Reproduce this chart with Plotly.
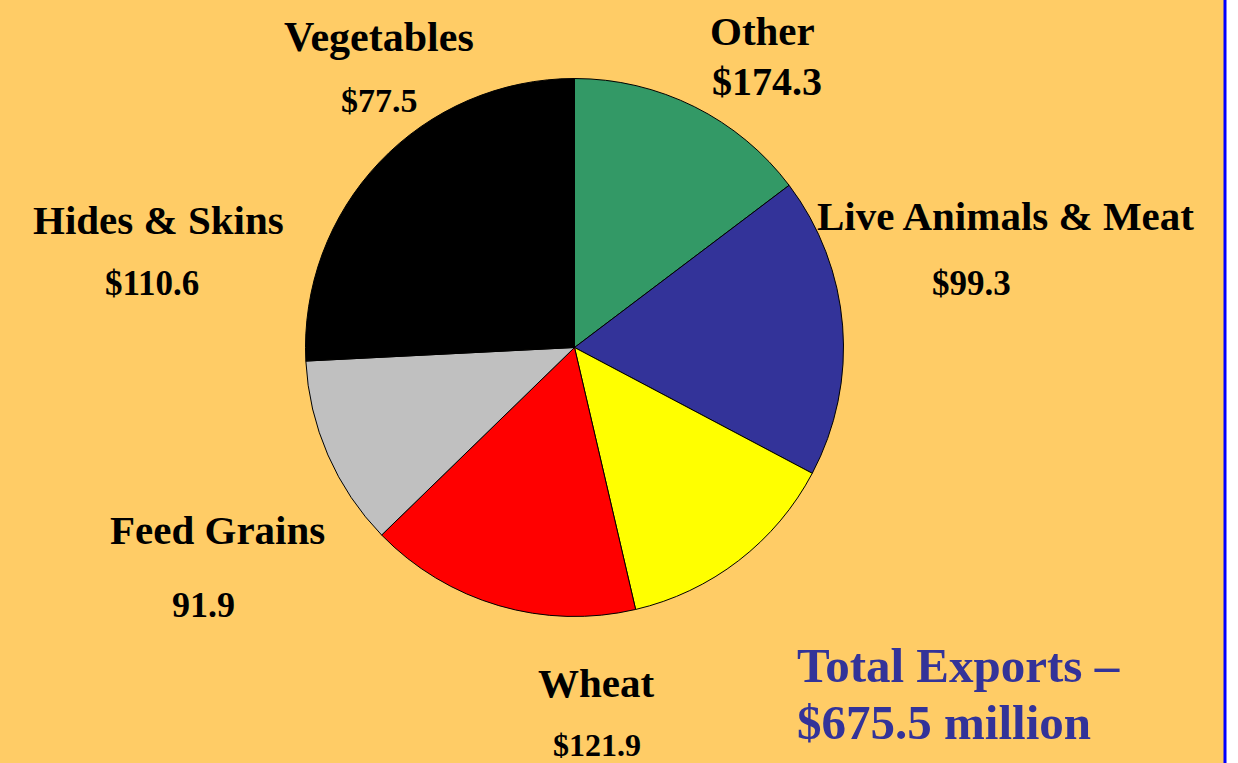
import plotly.graph_objects as go

# Slices drawn clockwise from 12 o'clock
categories = ["Live Animals & Meat", "Wheat", "Feed Grains", "Hides & Skins", "Vegetables", "Other"]
values = [99.3, 121.9, 91.9, 110.6, 77.5, 174.3]
slice_colors = ["#339966", "#333399", "#FFFF00", "#FF0000", "#C0C0C0", "#000000"]

# Label texts (name line, value line) as shown on the chart
label_names = ["Other", "Vegetables", "Hides & Skins", "Feed Grains", "Wheat", "Live Animals & Meat"]
label_values = ["$174.3", "$77.5", "$110.6", "91.9", "$121.9", "$99.3"]
total_lines = ["Total Exports \u2013", "$675.5 million"]

W, H = 1238, 763
cx, cy, r = 574.5, 347.5, 269

fig = go.Figure()
fig.add_trace(go.Pie(
    labels=categories,
    values=values,
    sort=False,
    direction="clockwise",
    rotation=0,
    marker=dict(colors=slice_colors, line=dict(color="#000000", width=1)),
    textinfo="none",
    hoverinfo="label+value",
    showlegend=False,
    domain=dict(x=[(cx - r) / W, (cx + r) / W], y=[(H - cy - r) / H, (H - cy + r) / H]),
))

FONT = "Liberation Serif, Times New Roman, serif"

# pixel positions (center x, center y) for name and value lines
name_pos = [(762, 31), (379, 37), (158, 220), (217, 530), (596, 683), (1005, 216)]
value_pos = [(767, 82), (380, 101), (152, 283), (203, 605), (597, 745), (971, 283)]
name_sizes = [41, 42, 41, 41, 41, 41]
value_sizes = [40, 34, 35, 36, 32, 35]

ann = []
for (nx, ny), (vx, vy), nm, vl, ns, vs in zip(name_pos, value_pos, label_names, label_values, name_sizes, value_sizes):
    ann.append(dict(x=nx / W, y=1 - ny / H, xref="paper", yref="paper", text="<b>%s</b>" % nm,
                    showarrow=False, xanchor="center", yanchor="middle",
                    font=dict(family=FONT, size=ns, color="#000000")))
    ann.append(dict(x=vx / W, y=1 - vy / H, xref="paper", yref="paper", text="<b>%s</b>" % vl,
                    showarrow=False, xanchor="center", yanchor="middle",
                    font=dict(family=FONT, size=vs, color="#000000")))

for txt, py in zip(total_lines, [665, 722]):
    ann.append(dict(x=795 / W, y=1 - py / H, xref="paper", yref="paper", text="<b>%s</b>" % txt,
                    showarrow=False, xanchor="left", yanchor="middle",
                    font=dict(family=FONT, size=49, color="#333399")))

shapes = [
    dict(type="rect", xref="paper", yref="paper", x0=1226 / W, x1=1.0, y0=0, y1=1,
         fillcolor="#FFFFFF", line=dict(width=0), layer="above"),
    dict(type="rect", xref="paper", yref="paper", x0=1223.5 / W, x1=1226.5 / W, y0=0, y1=1,
         fillcolor="#0000FF", line=dict(width=0), layer="above"),
]

fig.update_layout(
    width=W, height=H,
    margin=dict(l=0, r=0, t=0, b=0),
    paper_bgcolor="#FFCC66",
    plot_bgcolor="#FFCC66",
    annotations=ann,
    shapes=shapes,
)

fig.write_html("out.html", config={"displayModeBar": False},
               post_script="document.body.style.margin='0';document.body.style.overflow='hidden';")
